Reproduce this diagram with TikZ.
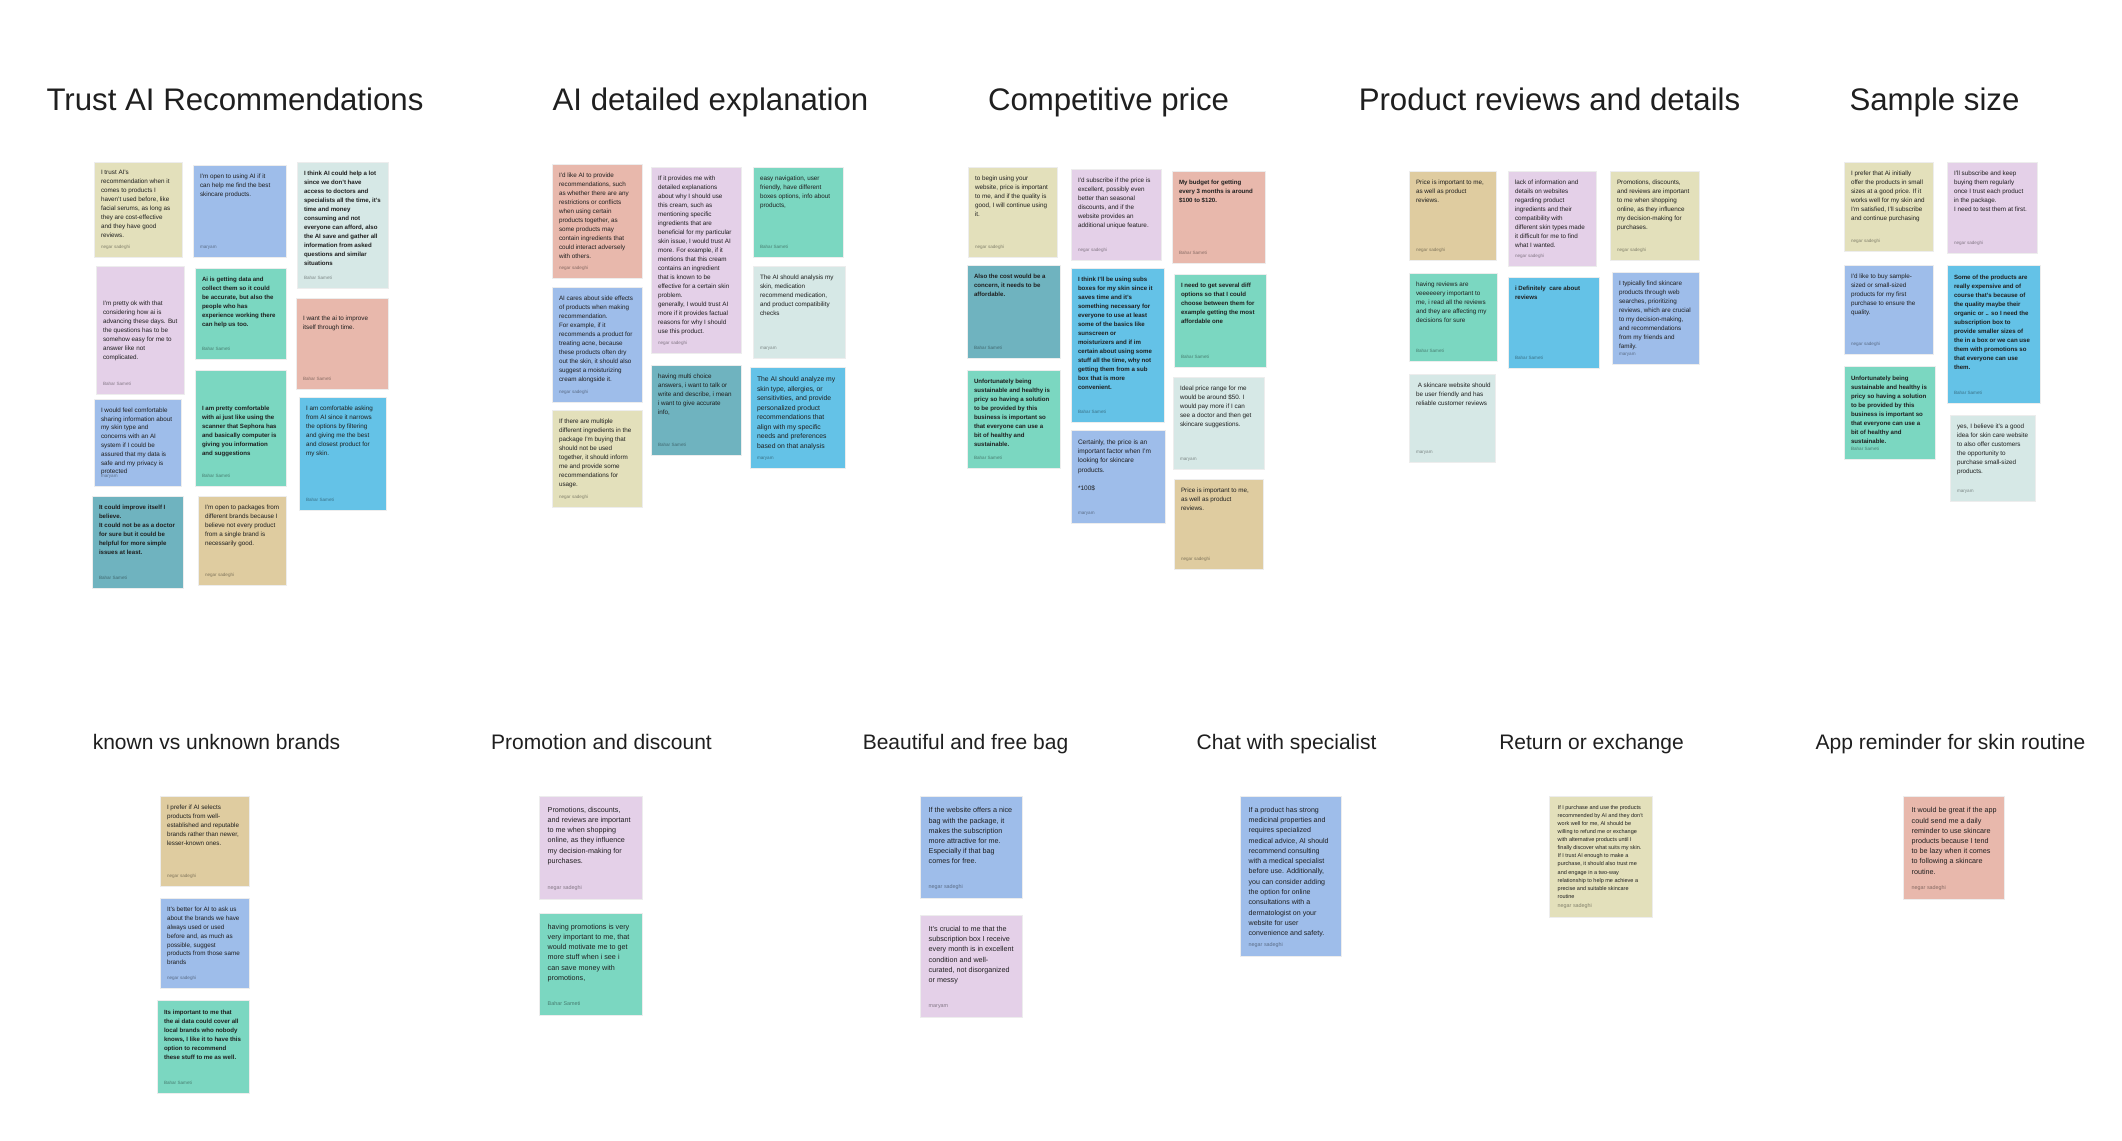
\documentclass[tikz,border=0pt]{standalone}
\usepackage{fontspec}
\setmainfont{Liberation Sans}
\definecolor{yel}{HTML}{E3E0BB}
\definecolor{blu}{HTML}{9EBDEA}
\definecolor{lgt}{HTML}{D6E8E6}
\definecolor{lav}{HTML}{E4D0E8}
\definecolor{tea}{HTML}{7BD7C1}
\definecolor{sal}{HTML}{E8B8AC}
\definecolor{cya}{HTML}{64C2E7}
\definecolor{dtl}{HTML}{6FB3BF}
\definecolor{tan}{HTML}{DFCCA0}
\def\padx{7}
\def\auy{9}
\def\aufont{\fontsize{4.6}{5}\selectfont}
\tikzset{
  note/.style={draw=black!7, line width=0.6pt, inner sep=0pt, outer sep=0pt},
  notetxt/.style={align=left, inner sep=0pt, outer sep=0pt, text=black!88, font=\fontsize{6.3}{9}\selectfont},
  fReg/.style={},
  fBold/.style={font=\fontsize{6.1}{9}\selectfont\bfseries},
  fMid/.style={font=\fontsize{6.8}{9.5}\selectfont},
  fBig/.style={font=\fontsize{7.2}{10.2}\selectfont},
  fChat/.style={font=\fontsize{7.05}{10.3}\selectfont},
  fSmall/.style={font=\fontsize{5.5}{8.1}\selectfont},
  author/.style={inner sep=0pt, outer sep=0pt, text=black, text opacity=0.42, font=\aufont},
  ttl/.style={inner sep=0pt, anchor=base, text=black!88, font=\fontsize{31.2}{34}\selectfont},
  subttl/.style={inner sep=0pt, anchor=base, text=black!88, font=\fontsize{21}{24}\selectfont},
}
% #1 first-line offset, #2 name, #3 x0, #4 y0, #5 x1, #6 y1, #7 style, #8 text, #9 author
\newcommand{\stick}[9][12]{%
  \node[note, #7, minimum width={#5-#3}, minimum height={#6-#4}, anchor=north west] (#2) at (#3,#4) {};
  \node[notetxt, #7, anchor=north west] (#2t) at ([xshift=\padx pt, yshift={-(#1-3)*1pt}]#2.north west) {#8};
  \node[author, anchor=base west] (#2a) at ([xshift=\padx pt, yshift=\auy pt]#2.south west) {#9};
}
\begin{document}
\begin{tikzpicture}[x=1pt, y=-1pt]
\fill[white] (0,0) rectangle (2122,1140);
\useasboundingbox (0,0) rectangle (2122,1140);

% ---------- titles ----------
\node[ttl] (h1) at (235,110) {Trust AI Recommendations};
\node[ttl] (h2) at (710.5,110) {AI detailed explanation};
\node[ttl] (h3) at (1108.5,110) {Competitive price};
\node[ttl] (h4) at (1549.5,110) {Product reviews and details};
\node[ttl] (h5) at (1934.5,110) {Sample size};
\node[subttl] (g1) at (216.5,749) {known vs unknown brands};
\node[subttl] (g2) at (601.5,749) {Promotion and discount};
\node[subttl] (g3) at (965.5,749) {Beautiful and free bag};
\node[subttl] (g4) at (1286.5,749) {Chat with specialist};
\node[subttl] (g5) at (1591.5,749) {Return or exchange};
\node[subttl] (g6) at (1950.5,749) {App reminder for skin routine};

% ---------- Trust AI Recommendations ----------
\stick[11]{t1}{94}{162}{182}{257}{fill=yel}{I trust AI's\\recommendation when it\\comes to products I\\haven't used before, like\\facial serums, as long as\\they are cost-effective\\and they have good\\reviews.}{negar sadeghi}
\stick[12.3]{t2}{193}{165}{286}{257}{fill=blu}{I'm open to using AI if it\\can help me find the best\\skincare products.}{maryam}
\stick[11.7]{t3}{297}{162}{388}{288}{fill=lgt, fBold}{I think AI could help a lot\\since we don't have\\access to doctors and\\specialists all the time, it's\\time and money\\consuming and not\\everyone can afford, also\\the AI save and gather all\\information from asked\\questions and similar\\situations}{Bahar Sameti}
\stick[37.7]{t4}{96}{266}{184}{394}{fill=lav}{I'm pretty ok with that\\considering how ai is\\advancing these days. But\\the questions has to be\\somehow easy for me to\\answer like not\\complicated.}{Bahar Sameti}
\stick[12.3]{t5}{195}{268}{286}{359}{fill=tea, fBold}{Ai is getting data and\\collect them so it could\\be accurate, but also the\\people who has\\experience working there\\can help us too.}{Bahar Sameti}
\stick[21]{t6}{296}{298}{388}{389}{fill=sal}{I want the ai to improve\\itself through time.}{Bahar Sameti}
\stick[11.7]{t7}{94}{399}{181}{486}{fill=blu, font=\fontsize{6.3}{8.8}\selectfont}{I would feel comfortable\\sharing information about\\my skin type and\\concerns with an AI\\system if I could be\\assured that my data is\\safe and my privacy is\\protected}{maryam}
\stick[39]{t8}{195}{370}{286}{486}{fill=tea, fBold}{I am pretty comfortable\\with ai just like using the\\scanner that Sephora has\\and basically computer is\\giving you information\\and suggestions}{Bahar Sameti}
\stick[12]{t9}{299}{397}{386}{510}{fill=cya}{I am comfortable asking\\from AI since it narrows\\the options by filtering\\and giving me the best\\and closest product for\\my skin.}{Bahar Sameti}
\stick[12]{t10}{92}{496}{183}{588}{fill=dtl, fBold}{It could improve itself I\\believe.\\It could not be as a doctor\\for sure but it could be\\helpful for more simple\\issues at least.}{Bahar Sameti}
\stick[11.7]{t11}{198}{496}{286}{585}{fill=tan}{I'm open to packages from\\different brands because I\\believe not every product\\from a single brand is\\necessarily good.}{negar sadeghi}

% ---------- AI detailed explanation ----------
\stick[12]{a1}{552}{164}{642}{278}{fill=sal}{I'd like AI to provide\\recommendations, such\\as whether there are any\\restrictions or conflicts\\when using certain\\products together, as\\some products may\\contain ingredients that\\could interact adversely\\with others.}{negar sadeghi}
\stick[12.3]{a2}{651}{167}{741}{353}{fill=lav}{If it provides me with\\detailed explanations\\about why I should use\\this cream, such as\\mentioning specific\\ingredients that are\\beneficial for my particular\\skin issue, I would trust AI\\more. For example, if it\\mentions that this cream\\contains an ingredient\\that is known to be\\effective for a certain skin\\problem.\\generally, I would trust AI\\more if it provides factual\\reasons for why I should\\use this product.}{negar sadeghi}
\stick[12.3]{a3}{753}{167}{843}{257}{fill=tea}{easy navigation, user\\friendly, have different\\boxes options, info about\\products,}{Bahar Sameti}
\stick[12]{a4}{552}{287}{642}{402}{fill=blu}{AI cares about side effects\\of products when making\\recommendation.\\For example, if it\\recommends a product for\\treating acne, because\\these products often dry\\out the skin, it should also\\suggest a moisturizing\\cream alongside it.}{negar sadeghi}
\stick[12.3]{a5}{753}{266}{845}{358}{fill=lgt}{The AI should analysis my\\skin, medication\\recommend medication,\\and product compatibility\\checks}{maryam}
\stick[11.7]{a6}{651}{365}{741}{455}{fill=dtl}{having multi choice\\answers, i want to talk or\\write and describe, i mean\\i want to give accurate\\info,}{Bahar Sameti}
\stick[13]{a7}{750}{367}{845}{468}{fill=cya, fMid}{The AI should analyze my\\skin type, allergies, or\\sensitivities, and provide\\personalized product\\recommendations that\\align with my specific\\needs and preferences\\based on that analysis}{maryam}
\stick[11.7]{a8}{552}{410}{642}{507}{fill=yel}{If there are multiple\\different ingredients in the\\package I'm buying that\\should not be used\\together, it should inform\\me and provide some\\recommendations for\\usage.}{negar sadeghi}

% ---------- Competitive price ----------
\stick[12.3]{c1}{968}{167}{1057}{257}{fill=yel}{to begin using your\\website, price is important\\to me, and if the quality is\\good, I will continue using\\it.}{negar sadeghi}
\stick[12.3]{c2}{1071}{169}{1161}{260}{fill=lav}{I'd subscribe if the price is\\excellent, possibly even\\better than seasonal\\discounts, and if the\\website provides an\\additional unique feature.}{negar sadeghi}
\stick[12.3]{c3}{1172}{171}{1265}{263}{fill=sal, fBold}{My budget for getting\\every 3 months is around\\\$100 to \$120.}{Bahar Sameti}
\stick[12.3]{c4}{967}{265}{1060}{358}{fill=dtl, fBold}{Also the cost would be a\\concern, it needs to be\\affordable.}{Bahar Sameti}
\stick[12.3]{c5}{1071}{268}{1164}{422}{fill=cya, fBold}{I think I'll be using subs\\boxes for my skin since it\\saves time and it's\\something necessary for\\everyone to use at least\\some of the basics like\\sunscreen or\\moisturizers and if im\\certain about using some\\stuff all the time, why not\\getting them from a sub\\box that is more\\convenient.}{Bahar Sameti}
\stick[12.3]{c6}{1174}{274}{1266}{367}{fill=tea, fBold}{I need to get several diff\\options so that I could\\choose between them for\\example getting the most\\affordable one}{Bahar Sameti}
\stick[12.3]{c7}{967}{370}{1060}{468}{fill=tea, fBold}{Unfortunately being\\sustainable and healthy is\\pricy so having a solution\\to be provided by this\\business is important so\\that everyone can use a\\bit of healthy and\\sustainable.}{Bahar Sameti}
\stick[12.7]{c8}{1071}{430}{1165}{523}{fill=blu, font=\fontsize{6.5}{9.2}\selectfont}{Certainly, the price is an\\important factor when I'm\\looking for skincare\\products.\\[9pt]*100\$}{maryam}
\stick[12]{c9}{1173}{377}{1264}{469}{fill=lgt}{Ideal price range for me\\would be around \$50. I\\would pay more if I can\\see a doctor and then get\\skincare suggestions.}{maryam}
\stick[12.3]{c10}{1174}{479}{1263}{569}{fill=tan}{Price is important to me,\\as well as product\\reviews.}{negar sadeghi}

% ---------- Product reviews and details ----------
\stick[12.3]{p1}{1409}{171}{1496}{260}{fill=tan}{Price is important to me,\\as well as product\\reviews.}{negar sadeghi}
\stick[12.3]{p2}{1508}{171}{1596}{266}{fill=lav}{lack of information and\\details on websites\\regarding product\\ingredients and their\\compatibility with\\different skin types made\\it difficult for me to find\\what I wanted.}{negar sadeghi}
\stick[12.3]{p3}{1610}{171}{1699}{260}{fill=yel}{Promotions, discounts,\\and reviews are important\\to me when shopping\\online, as they influence\\my decision-making for\\purchases.}{negar sadeghi}
\stick[11.7]{p4}{1409}{273}{1497}{361}{fill=tea}{having reviews are\\veeeeeery important to\\me, i read all the reviews\\and they are affecting my\\decisions for sure}{Bahar Sameti}
\stick[12.3]{p5}{1508}{277}{1599}{368}{fill=cya, fBold}{i Definitely ~care about\\reviews}{Bahar Sameti}
\stick[11.7]{p6}{1612}{272}{1699}{364}{fill=blu}{I typically find skincare\\products through web\\searches, prioritizing\\reviews, which are crucial\\to my decision-making,\\and recommendations\\from my friends and\\family.}{maryam}
\stick[11.7]{p7}{1409}{374}{1495}{462}{fill=lgt}{~A skincare website should\\be user friendly and has\\reliable customer reviews}{maryam}

% ---------- Sample size ----------
\stick[12]{s1}{1844}{162}{1933}{251}{fill=yel}{I prefer that Ai initially\\offer the products in small\\sizes at a good price. If it\\works well for my skin and\\I'm satisfied, I'll subscribe\\and continue purchasing}{negar sadeghi}
\stick[12]{s2}{1947}{162}{2037}{253}{fill=lav}{I'll subscribe and keep\\buying them regularly\\once I trust each product\\in the package.\\I need to test them at first.}{negar sadeghi}
\stick[12.3]{s3}{1844}{265}{1933}{354}{fill=blu}{I'd like to buy sample-\\sized or small-sized\\products for my first\\purchase to ensure the\\quality.}{negar sadeghi}
\stick[12.7]{s4}{1947}{265}{2040}{403}{fill=cya, fBold}{Some of the products are\\really expensive and of\\course that's because of\\the quality maybe their\\organic or .. so I need the\\subscription box to\\provide smaller sizes of\\the in a box or we can use\\them with promotions so\\that everyone can use\\them.}{Bahar Sameti}
\stick[12.7]{s5}{1844}{366}{1935}{459}{fill=tea, fBold}{Unfortunately being\\sustainable and healthy is\\pricy so having a solution\\to be provided by this\\business is important so\\that everyone can use a\\bit of healthy and\\sustainable.}{Bahar Sameti}
\stick[11.7]{s6}{1950}{415}{2035}{501}{fill=lgt}{yes, I believe it's a good\\idea for skin care website\\to also offer customers\\the opportunity to\\purchase small-sized\\products.}{maryam}

% ---------- known vs unknown brands ----------
\stick[12.3]{k1}{160}{796}{249}{886}{fill=tan}{I prefer if AI selects\\products from well-\\established and reputable\\brands rather than newer,\\lesser-known ones.}{negar sadeghi}
\stick[12.3]{k2}{160}{898}{249}{988}{fill=blu, font=\fontsize{6.3}{8.8}\selectfont}{It's better for AI to ask us\\about the brands we have\\always used or used\\before and, as much as\\possible, suggest\\products from those same\\brands}{negar sadeghi}
\stick[12.7]{k3}{157}{1000}{249}{1093}{fill=tea, fBold}{Its important to me that\\the ai data could cover all\\local brands who nobody\\knows, I like it to have this\\option to recommend\\these stuff to me as well.}{Bahar Sameti}

% ---------- wider bottom notes ----------
\def\padx{8.7}
\def\auy{9.5}
\def\aufont{\fontsize{5.4}{6}\selectfont}
\stick[14]{m1}{539}{796}{642}{899}{fill=lav, fBig}{Promotions, discounts,\\and reviews are important\\to me when shopping\\online, as they influence\\my decision-making for\\purchases.}{negar sadeghi}
\stick[14]{m2}{539}{913}{642}{1015}{fill=tea, fBig}{having promotions is very\\very important to me, that\\would motivate me to get\\more stuff when i see i\\can save money with\\promotions,}{Bahar Sameti}
\stick[14.7]{b1}{920}{796}{1022}{898}{fill=blu, fBig}{If the website offers a nice\\bag with the package, it\\makes the subscription\\more attractive for me.\\Especially if that bag\\comes for free.}{negar sadeghi}
\stick[14.3]{b2}{920}{915}{1022}{1017}{fill=lav, fBig}{It's crucial to me that the\\subscription box I receive\\every month is in excellent\\condition and well-\\curated, not disorganized\\or messy}{maryam}
\stick[14]{h1n}{1240}{796}{1341}{956}{fill=blu, fChat}{If a product has strong\\medicinal properties and\\requires specialized\\medical advice, AI should\\recommend consulting\\with a medical specialist\\before use. Additionally,\\you can consider adding\\the option for online\\consultations with a\\dermatologist on your\\website for user\\convenience and safety.}{negar sadeghi}
\stick[12.3]{r1}{1549}{796}{1652}{917}{fill=yel, fSmall}{If I purchase and use the products\\recommended by AI and they don't\\work well for me, AI should be\\willing to refund me or exchange\\with alternative products until I\\finally discover what suits my skin.\\If I trust AI enough to make a\\purchase, it should also trust me\\and engage in a two-way\\relationship to help me achieve a\\precise and suitable skincare\\routine}{negar sadeghi}
\stick[14.7]{ap1}{1903}{796}{2004}{899}{fill=sal, fBig}{It would be great if the app\\could send me a daily\\reminder to use skincare\\products because I tend\\to be lazy when it comes\\to following a skincare\\routine.}{negar sadeghi}
\end{tikzpicture}
\end{document}
